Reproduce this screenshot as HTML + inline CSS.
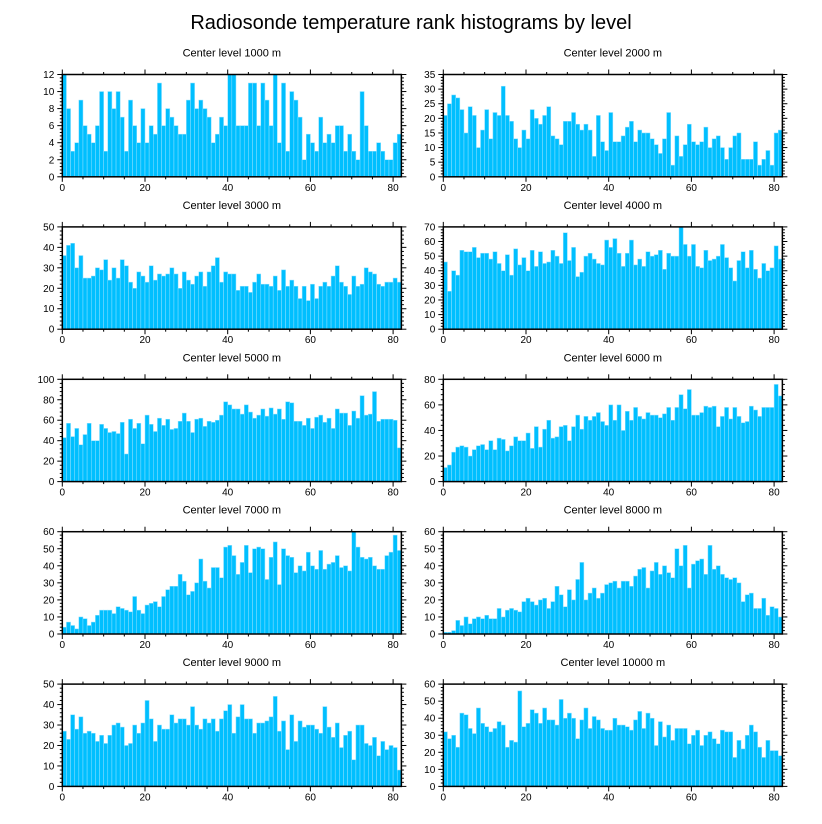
<!DOCTYPE html>
<html><head><meta charset="utf-8"><style>
html,body{margin:0;padding:0;background:#fff;}
svg{display:block;font-family:"Liberation Sans",Arial,sans-serif;}
</style></head><body>
<svg id="chart" width="822" height="824" viewBox="0 0 822 824" xmlns="http://www.w3.org/2000/svg">
<text x="411" y="29" font-size="20" text-anchor="middle" fill="#000">Radiosonde temperature rank histograms by level</text>
</svg>
<script>
const panelTitles = ["Center level 1000 m","Center level 2000 m","Center level 3000 m","Center level 4000 m","Center level 5000 m","Center level 6000 m","Center level 7000 m","Center level 8000 m","Center level 9000 m","Center level 10000 m"];
const yMaxes = [12,35,50,70,100,80,60,60,50,60];
const yMajorSteps = [2,5,10,10,20,20,10,10,10,10];
const xTickLabels = [0,20,40,60,80];
const counts1000 = [12,8,3,4,9,6,5,4,6,10,3,10,8,10,7,3,9,6,4,8,4,6,5,11,6,8,7,6,5,5,9,11,8,9,8,7,4,5,7,6,12,12,6,6,6,11,11,6,11,9,6,12,4,11,3,10,9,7,2,5,4,3,7,4,5,4,6,6,3,5,3,2,10,6,3,3,4,3,2,2,4,5];
const counts2000 = [21,25,28,27,23,15,24,21,10,16,23,13,22,21,31,21,19,13,10,16,13,23,20,18,21,24,14,13,11,19,19,22,18,16,18,16,7,21,12,9,22,12,12,14,17,19,12,16,15,15,13,11,8,13,22,4,14,7,11,18,12,11,12,17,10,13,14,10,6,10,14,15,6,6,6,12,4,6,9,4,15,16];
const counts3000 = [36,41,42,30,36,25,25,26,30,29,34,24,30,25,34,31,23,20,28,26,23,31,24,27,26,27,30,27,20,28,24,22,26,28,21,28,31,35,23,28,27,27,19,21,21,18,23,27,22,22,21,26,19,29,21,24,21,15,21,14,22,15,21,23,21,26,31,23,21,17,26,21,22,30,28,27,22,21,23,23,25,23];
const counts4000 = [46,26,40,37,54,53,53,56,49,52,52,48,53,45,40,51,37,55,44,49,40,54,43,53,45,46,54,50,45,66,47,56,36,39,50,52,48,45,44,61,56,62,52,43,52,61,44,48,43,53,50,51,54,41,52,50,50,70,58,50,58,43,42,54,47,48,50,58,49,42,33,47,53,42,54,41,35,45,40,42,57,48];
const counts5000 = [43,57,44,52,36,46,57,40,40,56,52,48,49,47,58,27,61,52,57,37,65,56,49,62,55,61,51,52,59,67,59,48,61,62,54,59,58,60,65,78,75,71,71,66,75,68,62,65,71,64,72,66,71,61,78,77,59,59,55,62,52,63,65,58,62,52,71,67,67,55,69,62,84,65,66,88,59,61,61,61,60,33];
const counts6000 = [11,13,23,27,28,27,20,25,28,29,25,32,25,34,33,24,28,35,32,32,38,26,43,27,41,48,34,35,43,44,32,43,52,41,51,48,51,54,47,44,60,48,60,40,55,48,58,51,49,54,52,52,50,53,58,48,58,68,57,72,52,52,54,59,58,59,43,51,58,49,58,51,46,47,59,56,51,58,58,58,76,67];
const counts7000 = [4,7,5,3,10,9,5,7,11,14,14,14,12,16,15,14,13,22,14,12,17,18,19,16,22,26,28,28,35,31,23,25,30,44,31,27,39,39,33,51,52,46,35,42,52,36,50,51,50,32,45,54,29,50,46,45,36,40,37,48,40,38,49,38,41,42,46,39,40,37,60,51,45,44,45,40,38,38,46,48,58,49];
const counts8000 = [1,1,2,8,5,10,6,9,10,9,11,9,9,15,10,14,15,14,13,19,21,19,17,20,21,15,19,28,23,16,26,20,32,42,20,24,27,21,24,29,30,31,27,31,31,28,34,38,39,27,37,42,35,40,36,33,50,40,52,27,41,43,44,35,52,38,40,35,33,32,33,30,19,23,24,15,15,21,11,16,15,10];
const counts9000 = [27,23,35,28,34,26,27,26,22,25,21,25,30,31,29,20,21,30,26,31,42,33,22,30,28,28,35,31,33,33,30,39,30,28,33,31,33,27,33,37,40,26,34,40,33,33,26,31,31,32,34,44,27,32,18,35,22,32,29,30,30,28,26,39,29,24,31,19,25,27,13,30,30,21,20,24,15,22,18,20,19,8];
const counts10000 = [32,28,30,23,43,42,34,31,46,37,35,32,34,38,36,23,27,26,56,35,37,45,43,37,46,39,39,36,51,40,43,40,28,39,46,34,41,39,34,33,33,40,36,36,35,33,39,44,34,43,40,24,38,29,36,27,34,34,34,25,30,33,24,30,32,28,25,33,32,32,17,27,22,30,36,32,23,17,27,21,21,18];
const allCounts = [counts1000,counts2000,counts3000,counts4000,counts5000,counts6000,counts7000,counts8000,counts9000,counts10000];

const NS = "http://www.w3.org/2000/svg";
const svg = document.getElementById('chart');
function mk(tag, attrs, parent){const e=document.createElementNS(NS,tag);for(const k in attrs)e.setAttribute(k,attrs[k]);(parent||svg).appendChild(e);return e;}

const XMAX = 82;
allCounts.forEach((data, p) => {
  const col = p % 2, row = Math.floor(p / 2);
  const left = col === 0 ? 62.3 : 443.3;
  const width = 82 * 4.135;
  const top = 74.5 + row * 152.4;
  const h = 102.3;
  const ymax = yMaxes[p];
  const xs = v => left + v / XMAX * width;
  const ys = v => top + h - v / ymax * h;
  const g = mk('g', {});
  
  
  const t = mk('text', {x: left + width/2, y: top - 18, 'font-size': 11, 'text-anchor': 'middle', fill: '#000'}, g);
  t.textContent = panelTitles[p];
  
  
  data.forEach((v, i) => {
    const b = mk('rect', {x: xs(i), y: ys(v), width: xs(i+1)-xs(i), height: ys(0)-ys(v), fill: '#00BFFF', stroke: '#8fe0ff', 'stroke-width': 0.5}, g);
    
    
  });
  const frame = mk('rect', {x: left, y: top, width: width, height: h, fill: 'none', stroke: '#000', 'stroke-width': 1.5}, g);
  
  
  // x ticks
  for (let v = 0; v <= XMAX; v += 5) {
    const maj = v % 20 === 0, L = maj ? 5 : 2.5;
    mk('line', {x1: xs(v), x2: xs(v), y1: top+h, y2: top+h+L, stroke:'#000','stroke-width':1}, g);
    mk('line', {x1: xs(v), x2: xs(v), y1: top, y2: top-L, stroke:'#000','stroke-width':1}, g);
  }
  xTickLabels.forEach(v => {
    const l = mk('text', {x: xs(v), y: top+h+14, 'font-size': 10, 'text-anchor':'middle', fill:'#000'}, g);
    l.textContent = v;
    
    
  });
  // y ticks
  const maj = yMajorSteps[p], minor = maj / 5;
  for (let k = 0; k * minor <= ymax + 1e-9; k++) {
    const v = k * minor, isMaj = k % 5 === 0, L = isMaj ? 5 : 2.5;
    mk('line', {x1: left, x2: left-L, y1: ys(v), y2: ys(v), stroke:'#000','stroke-width':1}, g);
    mk('line', {x1: left+width, x2: left+width+L, y1: ys(v), y2: ys(v), stroke:'#000','stroke-width':1}, g);
    if (isMaj) {
      const l = mk('text', {x: left-8, y: ys(v)+3.5, 'font-size': 10, 'text-anchor':'end', fill:'#000'}, g);
      l.textContent = Math.round(v);
      
      
    }
  }
});
</script>
</body></html>
